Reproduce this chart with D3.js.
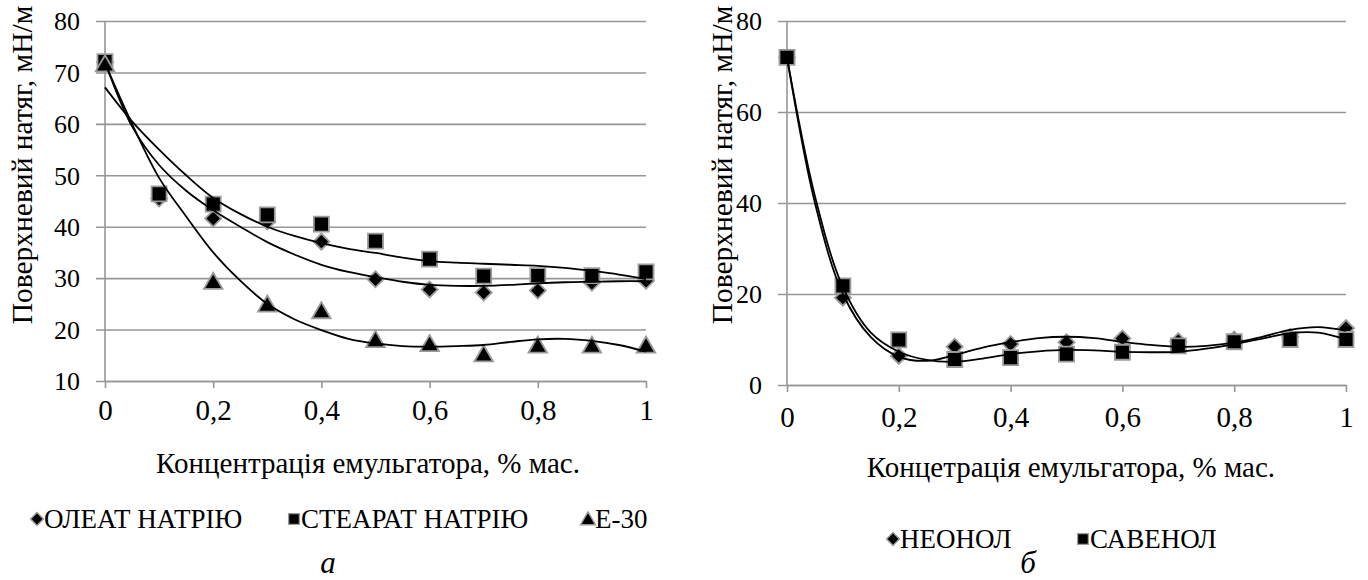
<!DOCTYPE html>
<html>
<head>
<meta charset="utf-8">
<script src="https://cdn.jsdelivr.net/npm/d3@7"></script>
<style>
  body { margin: 0; background: #fff; }
  svg { display: block; }
</style>
</head>
<body>
<svg id="chart" width="1368" height="580"></svg>
<script>
// ---- measured data: surface tension (mN/m) vs emulsifier concentration (% mass) ----
const concentration = [0, 0.1, 0.2, 0.3, 0.4, 0.5, 0.6, 0.7, 0.8, 0.9, 1.0];

// panel a (null = no marker at that concentration)
const oleate   = [72, 45.5, 41.6, 41, 37.1, 29.8, 27.8, 27.2, 27.6, 29.1, 29.5];
const stearate = [72.1, 46.4, 44.4, 42.3, 40.5, 37.2, 33.7, 30.4, 30.5, 30.5, 31.2];
const e30      = [71.6, null, 29.3, 24.9, 23.6, 18, 17.2, 15.2, 16.9, 16.9, 16.9];

// panel б
const neonol  = [72, 19.2, 6.4, 8.4, 9.0, 9.4, 10.2, 9.6, 10.0, 10.6, 12.5];
const savenol = [72, 21.8, 9.9, 5.6, 6.0, 6.8, 7.2, 8.6, 9.5, 10.0, 10.0];

// fitted trend curves, sampled every 0.05
const trendX = [0, 0.05, 0.1, 0.15, 0.2, 0.25, 0.3, 0.35, 0.4, 0.45, 0.5,
                0.55, 0.6, 0.65, 0.7, 0.75, 0.8, 0.85, 0.9, 0.95, 1.0];
const oleateTrend   = [72, 59.5, 52, 47, 43.2, 40, 37, 34.6, 32.6, 31.2, 30.2,
                       29.3, 28.7, 28.5, 28.5, 28.7, 29.0, 29.2, 29.3, 29.4, 29.4];
const stearateTrend = [67.1, 60.5, 55, 50, 45.6, 42.5, 40, 38.2, 36.8, 35.7, 34.9,
                       34, 33.3, 33, 32.8, 32.6, 32.4, 32, 31.4, 30.7, 29.8];
const e30Trend      = [71.8, 60, 49.5, 42, 35, 29.5, 25, 22, 19.9, 18.2, 17.3,
                       16.8, 16.7, 16.8, 17.0, 17.6, 18.1, 18.2, 17.8, 17, 15.7];
const neonolTrend   = [72, 40, 20, 10.5, 6.2, 5.3, 6.6, 8.2, 9.4, 10.3, 10.6,
                       10.3, 9.5, 8.8, 8.4, 8.6, 9.3, 10.6, 12.1, 12.7, 11.9];
const savenolTrend  = [72, 41.5, 21.5, 11.5, 7.3, 5.5, 5.1, 5.8, 6.8, 7.4, 7.7,
                       7.6, 7.3, 7.2, 7.3, 8.0, 9.0, 10.2, 11.4, 11.5, 10.0];

// axes
const xTicks = [0, 0.2, 0.4, 0.6, 0.8, 1];
const xTickLabels = ["0", "0,2", "0,4", "0,6", "0,8", "1"];
const yTicksA = [10, 20, 30, 40, 50, 60, 70, 80];
const yTicksB = [0, 20, 40, 60, 80];

// texts
const yTitle = "Поверхневий натяг, мН/м";
const xTitleA = "Концентрація емульгатора, % мас.";
const xTitleB = "Концетрація емульгатора, % мас.";
const legendA = ["ОЛЕАТ НАТРІЮ", "СТЕАРАТ НАТРІЮ", "Е-30"];
const legendB = ["НЕОНОЛ", "САВЕНОЛ"];
const panelLabels = ["а", "б"];

const FONT = '"Liberation Serif", "Times New Roman", serif';
const svg = d3.select("#chart").style("font-family", FONT);
const GRID = "#969696";
const MARK_EDGE = "#9a9a9a";

function drawMarker(g, kind, cx, cy, scale) {
  const s = scale || 1;
  let rot = 0, size, dy = 0;
  if (kind === "diamond") { size = 128 * s * s; rot = 45; }
  else if (kind === "square") { size = 225 * s * s; }
  else { size = 150 * s * s; dy = 1.8 * s; }
  const path = d3.symbol().type(kind === "triangle" ? d3.symbolTriangle : d3.symbolSquare).size(size)();
  g.append("path")
    .attr("d", path)
    .attr("transform", `translate(${cx},${cy + dy}) rotate(${rot})`)
    .attr("fill", "#000")
    .attr("stroke", MARK_EDGE)
    .attr("stroke-width", 1.8 * s);
}

function styleText(sel, size, extra) {
  sel.style("font-family", FONT).style("font-size", size + "px").attr("fill", "#000");
  if (extra) sel.style("font-style", extra);
  return sel;
}

function panel(cfg) {
  const g = svg.append("g");
  const x = d3.scaleLinear().domain([0, 1]).range([cfg.left, cfg.right]);
  const y = d3.scaleLinear().domain(cfg.yDomain).range([cfg.bottom, cfg.top]);

  // horizontal gridlines with labels (drawn from the right edge so lines reach past the axis)
  const grid = g.append("g")
    .attr("transform", `translate(${cfg.right},0)`)
    .call(d3.axisLeft(y).tickValues(cfg.yTicks).tickSize(cfg.right - cfg.left + 9)
      .tickPadding(cfg.yPad).tickFormat(d3.format("d")));
  grid.select(".domain").remove();
  grid.selectAll(".tick line").attr("stroke", GRID).attr("stroke-width", 1.6);
  styleText(grid.selectAll(".tick text"), cfg.yFont).attr("dy", "0.34em");

  // vertical value axis
  g.append("line")
    .attr("x1", x(0)).attr("x2", x(0))
    .attr("y1", y(cfg.yDomain[1])).attr("y2", y(cfg.yDomain[0]))
    .attr("stroke", GRID).attr("stroke-width", 1.6);

  // category axis
  const xa = g.append("g")
    .attr("transform", `translate(0,${cfg.bottom})`)
    .call(d3.axisBottom(x).tickValues(xTicks).tickSize(7).tickSizeOuter(0)
      .tickPadding(cfg.xPad).tickFormat((d, i) => xTickLabels[i]));
  xa.select(".domain").attr("stroke", GRID).attr("stroke-width", 1.6);
  xa.selectAll(".tick line").attr("stroke", GRID).attr("stroke-width", 1.6);
  styleText(xa.selectAll(".tick text"), cfg.xFont);

  // markers (series order: later series on top)
  cfg.series.forEach(s => {
    const mg = g.append("g");
    s.values.forEach((v, i) => {
      if (v !== null) drawMarker(mg, s.marker, x(concentration[i]), y(v));
    });
  });

  // trend curves
  const line = d3.line().x((d, i) => x(trendX[i])).y(d => y(d)).curve(d3.curveCatmullRom.alpha(0.5));
  cfg.series.forEach(s => {
    g.append("path")
      .attr("d", line(s.trend))
      .attr("fill", "none")
      .attr("stroke", "#000")
      .attr("stroke-width", 1.8);
  });

  // axis titles
  styleText(g.append("text"), cfg.yTitleFont)
    .attr("transform", `translate(${cfg.yTitleX},${cfg.yTitleY}) rotate(-90)`)
    .attr("text-anchor", "middle")
    .text(yTitle);
  styleText(g.append("text"), cfg.xTitleFont)
    .attr("x", cfg.xTitleX).attr("y", cfg.xTitleY)
    .attr("text-anchor", "middle")
    .text(cfg.xTitle);

  // legend
  cfg.series.forEach((s, i) => {
    const lx = cfg.legendX[i];
    drawMarker(g, s.marker, lx, cfg.legendY - 9, s.marker === "square" ? 0.72 : 0.8);
    styleText(g.append("text"), cfg.legendFont)
      .attr("x", lx + 7).attr("y", cfg.legendY)
      .text(s.name);
  });

  // panel letter
  styleText(g.append("text"), 31, "italic")
    .attr("x", cfg.letterX).attr("y", cfg.letterY)
    .attr("text-anchor", "middle")
    .text(cfg.letter);
}

panel({
  left: 105, right: 646, top: 21, bottom: 381,
  yDomain: [10, 80], yTicks: yTicksA, yPad: 16, yFont: 26,
  xPad: 11, xFont: 29,
  yTitleX: 32, yTitleY: 165, yTitleFont: 29.5,
  xTitle: xTitleA, xTitleX: 368, xTitleY: 473, xTitleFont: 29,
  legendX: [37, 294, 588], legendY: 528, legendFont: 27,
  letter: panelLabels[0], letterX: 328, letterY: 573,
  series: [
    { name: legendA[0], marker: "diamond", values: oleate, trend: oleateTrend },
    { name: legendA[1], marker: "square", values: stearate, trend: stearateTrend },
    { name: legendA[2], marker: "triangle", values: e30, trend: e30Trend }
  ]
});

panel({
  left: 787, right: 1346, top: 21, bottom: 385,
  yDomain: [0, 80], yTicks: yTicksB, yPad: 16, yFont: 26,
  xPad: 14, xFont: 29,
  yTitleX: 732, yTitleY: 165, yTitleFont: 29.5,
  xTitle: xTitleB, xTitleX: 1071, xTitleY: 477, xTitleFont: 29,
  legendX: [893, 1083], legendY: 548, legendFont: 27,
  letter: panelLabels[1], letterX: 1028, letterY: 573,
  series: [
    { name: legendB[0], marker: "diamond", values: neonol, trend: neonolTrend },
    { name: legendB[1], marker: "square", values: savenol, trend: savenolTrend }
  ]
});
</script>
</body>
</html>
